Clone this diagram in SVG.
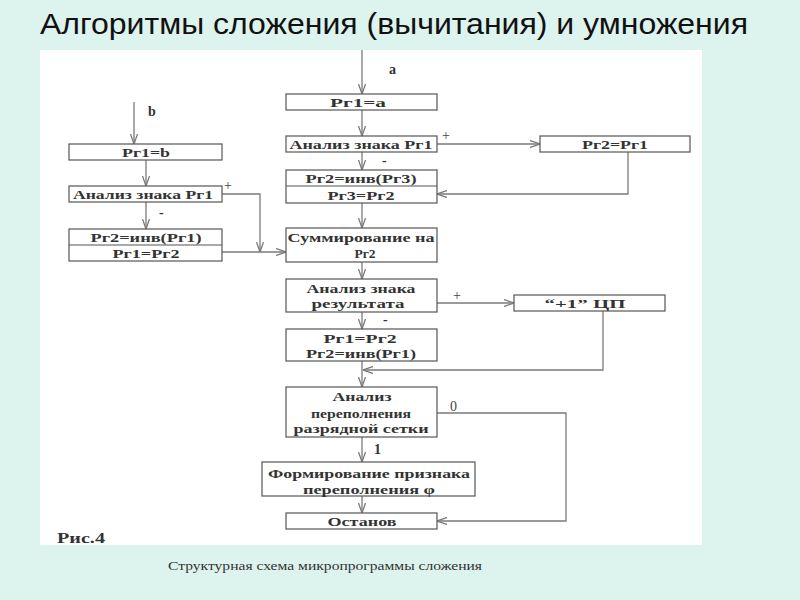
<svg xmlns="http://www.w3.org/2000/svg" width="800" height="600" viewBox="0 0 800 600">
<defs>
<style>
.box{fill:#fff;stroke:#555;stroke-width:1.2}
.c{fill:none;stroke:#7a7a7a;stroke-width:1.3}
.t{font-family:"Liberation Serif","DejaVu Serif",serif;font-weight:bold;font-size:13.5px;fill:#333;text-anchor:middle}
.l{font-family:"Liberation Serif","DejaVu Serif",serif;font-weight:bold;font-size:14px;fill:#333}
.s{font-family:"Liberation Serif","DejaVu Serif",serif;font-size:14px;fill:#444}
</style>
<marker id="ah" viewBox="0 0 10 8" refX="10" refY="4" markerWidth="10" markerHeight="8" markerUnits="userSpaceOnUse" orient="auto">
<path d="M0,0.5 L10,4 L0,7.5" fill="none" stroke="#7a7a7a" stroke-width="1.3"/>
</marker>
</defs>
<rect x="0" y="0" width="800" height="600" fill="#ddf3ee"/>
<text x="40" y="34" font-family="Liberation Sans, Arial, sans-serif" font-size="30" fill="#111" textLength="708" lengthAdjust="spacingAndGlyphs">Алгоритмы сложения (вычитания) и умножения</text>
<rect x="40" y="50" width="662" height="495" fill="#fff"/>

<g id="connectors">
<path class="c" d="M134,102 V144" marker-end="url(#ah)"/>
<path class="c" d="M146,160 V186" marker-end="url(#ah)"/>
<path class="c" d="M146,202 V229" marker-end="url(#ah)"/>
<path class="c" d="M222,194 H260 V252" marker-end="url(#ah)"/>
<path class="c" d="M222,252 H286" marker-end="url(#ah)"/>
<path class="c" d="M362,50 V94" marker-end="url(#ah)"/>
<path class="c" d="M362,110 V136" marker-end="url(#ah)"/>
<path class="c" d="M437,144 H540" marker-end="url(#ah)"/>
<path class="c" d="M362,152 V170" marker-end="url(#ah)"/>
<path class="c" d="M628,152 V194 H437" marker-end="url(#ah)"/>
<path class="c" d="M362,203 V228" marker-end="url(#ah)"/>
<path class="c" d="M362,262 V279" marker-end="url(#ah)"/>
<path class="c" d="M437,303 H514" marker-end="url(#ah)"/>
<path class="c" d="M362,312 V329" marker-end="url(#ah)"/>
<path class="c" d="M603,311 V370 H363" marker-end="url(#ah)"/>
<path class="c" d="M362,361 V387" marker-end="url(#ah)"/>
<path class="c" d="M437,413 H566 V521 H437" marker-end="url(#ah)"/>
<path class="c" d="M362,437 V462" marker-end="url(#ah)"/>
<path class="c" d="M362,496 V513" marker-end="url(#ah)"/>
</g>

<g id="labels">
<text class="l" x="148" y="116">b</text>
<text class="l" x="389" y="74">a</text>
<text class="s" x="224" y="190">+</text>
<text class="l" x="159" y="217">-</text>
<text class="s" x="442" y="140">+</text>
<text class="l" x="382" y="165">-</text>
<text class="s" x="453" y="300">+</text>
<text class="l" x="383" y="324">-</text>
<text class="s" x="450" y="411">0</text>
<text class="l" x="374" y="454">1</text>
<text class="l" x="57" y="543" textLength="48" lengthAdjust="spacingAndGlyphs">Рис.4</text>
</g>

<g id="n_b1"><rect class="box" x="69" y="144" width="153" height="16"/><text class="t" x="146" y="157" textLength="48" lengthAdjust="spacingAndGlyphs">Рг1=b</text></g>
<g id="n_b2"><rect class="box" x="69" y="186" width="153" height="16"/><text class="t" x="143" y="199" textLength="140" lengthAdjust="spacingAndGlyphs">Анализ знака Рг1</text></g>
<g id="n_b3"><rect class="box" x="69" y="229" width="153" height="32"/><line x1="69" y1="245" x2="222" y2="245" stroke="#555" stroke-width="1.2"/><text class="t" x="146" y="241.5" textLength="111" lengthAdjust="spacingAndGlyphs">Рг2=инв(Рг1)</text><text class="t" x="146" y="258" textLength="67" lengthAdjust="spacingAndGlyphs">Рг1=Рг2</text></g>

<g id="n_a1"><rect class="box" x="286" y="94" width="151" height="16"/><text class="t" x="358" y="107" textLength="56" lengthAdjust="spacingAndGlyphs">Рг1=а</text></g>
<g id="n_a2"><rect class="box" x="286" y="136" width="151" height="16"/><text class="t" x="361" y="149" textLength="143" lengthAdjust="spacingAndGlyphs">Анализ знака Рг1</text></g>
<g id="n_r1"><rect class="box" x="540" y="136" width="150" height="16"/><text class="t" x="615" y="149" textLength="66" lengthAdjust="spacingAndGlyphs">Рг2=Рг1</text></g>
<g id="n_a3"><rect class="box" x="286" y="170" width="151" height="33"/><line x1="286" y1="186" x2="437" y2="186" stroke="#555" stroke-width="1.2"/><text class="t" x="361" y="182.5" textLength="111" lengthAdjust="spacingAndGlyphs">Рг2=инв(Рг3)</text><text class="t" x="361" y="199.5" textLength="67" lengthAdjust="spacingAndGlyphs">Рг3=Рг2</text></g>
<g id="n_sum"><rect class="box" x="286" y="228" width="151" height="34"/><text class="t" x="361" y="241.5" textLength="147" lengthAdjust="spacingAndGlyphs">Суммирование на</text><text class="t" x="365" y="257.5">Рг2</text></g>
<g id="n_res"><rect class="box" x="286" y="279" width="151" height="33"/><text class="t" x="361" y="292.5" textLength="109" lengthAdjust="spacingAndGlyphs">Анализ знака</text><text class="t" x="358" y="307.5" textLength="93" lengthAdjust="spacingAndGlyphs">результата</text></g>
<g id="n_cp"><rect class="box" x="514" y="295" width="151" height="16"/><text class="t" x="585" y="308" textLength="81" lengthAdjust="spacingAndGlyphs" font-weight="normal">“+1” ЦП</text></g>
<g id="n_sw"><rect class="box" x="286" y="329" width="151" height="32"/><text class="t" x="360" y="342.5" textLength="73" lengthAdjust="spacingAndGlyphs">Рг1=Рг2</text><text class="t" x="361" y="357.5" textLength="110" lengthAdjust="spacingAndGlyphs">Рг2=инв(Рг1)</text></g>
<g id="n_ovf"><rect class="box" x="286" y="387" width="151" height="50"/><text class="t" x="362" y="400.5" textLength="59" lengthAdjust="spacingAndGlyphs">Анализ</text><text class="t" x="361" y="417.5" textLength="100" lengthAdjust="spacingAndGlyphs">переполнения</text><text class="t" x="361" y="432.5" textLength="135" lengthAdjust="spacingAndGlyphs">разрядной сетки</text></g>
<g id="n_flag"><rect class="box" x="262" y="462" width="213" height="34"/><text class="t" x="369" y="477.5" textLength="202" lengthAdjust="spacingAndGlyphs">Формирование признака</text><text class="t" x="369" y="493.5" textLength="132" lengthAdjust="spacingAndGlyphs">переполнения φ</text></g>
<g id="n_stop"><rect class="box" x="286" y="513" width="151" height="16"/><text class="t" x="362" y="526" textLength="69" lengthAdjust="spacingAndGlyphs">Останов</text></g>

<text x="168" y="570" font-family="Liberation Serif, serif" font-size="13.5" fill="#333" textLength="314" lengthAdjust="spacingAndGlyphs">Структурная схема микропрограммы сложения</text>
</svg>
